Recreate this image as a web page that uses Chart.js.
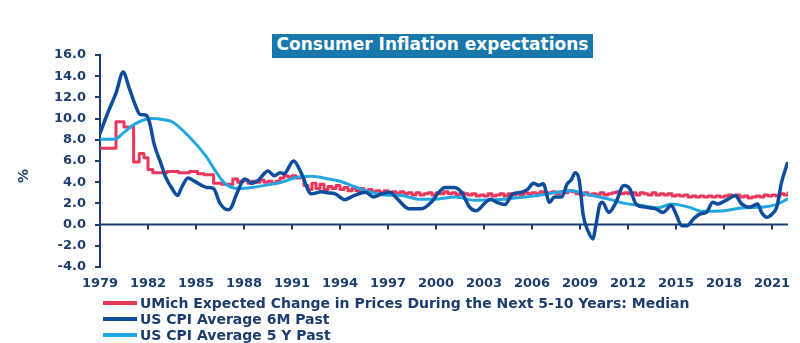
<!DOCTYPE html>
<html>
<head>
<meta charset="utf-8">
<script src="https://cdn.jsdelivr.net/npm/chart.js@4/dist/chart.umd.min.js"></script>
<style>
  html, body { margin: 0; padding: 0; background: #ffffff; }
  #wrap { position: relative; width: 800px; height: 343px; overflow: hidden; }
  #c { position: absolute; left: 0; top: 0; }
  #title {
    position: absolute; left: 272px; top: 34px; width: 321px; height: 24px;
    background: #1878ac; color: #ffffff; text-align: center; line-height: 24px;
    font: bold 17px "DejaVu Sans", sans-serif; white-space: nowrap;
  }
  #ylab {
    position: absolute; left: 16px; top: 168px; transform: rotate(-90deg);
    font: bold 14px "DejaVu Sans", sans-serif; color: #1c3d6e;
  }
  #legend {
    position: absolute; left: 103px; top: 295px;
    font: bold 14px "DejaVu Sans", sans-serif; color: #1c3d6e;
  }
  .item { display: flex; align-items: center; height: 16px; white-space: nowrap; }
  .swatch { width: 34px; height: 4px; margin-right: 3px; flex: none; }
</style>
</head>
<body>
<div id="wrap">
  <canvas id="c" width="800" height="343"></canvas>
  <div id="title">Consumer Inflation expectations</div>
  <div id="ylab">%</div>
  <div id="legend"></div>
</div>
<script>
// Axis ticks
const xTickYears = [1979, 1982, 1985, 1988, 1991, 1994, 1997, 2000, 2003, 2006, 2009, 2012, 2015, 2018, 2021];
const yTickValues = [-4, -2, 0, 2, 4, 6, 8, 10, 12, 14, 16];

// Series labels
const seriesNames = [
  'UMich Expected Change in Prices During the Next 5-10 Years: Median',
  'US CPI Average 6M Past',
  'US CPI Average 5 Y Past'
];

// UMich 5-10y expected inflation, median (%), by decimal year
const umichYears = [
  1979.0, 1980.0, 1980.5, 1981.1, 1981.45, 1981.75, 1982.0, 1982.3, 1983.2, 1983.9,
  1984.6, 1985.1, 1985.5, 1986.1, 1986.6, 1987.3, 1987.6,
  1987.75, 1988.0, 1988.25, 1988.5, 1988.75, 1989.0, 1989.25, 1989.5, 1989.75,
  1990.0, 1990.25, 1990.5, 1990.75, 1991.0, 1991.25, 1991.5, 1991.75,
  1992.0, 1992.25, 1992.5, 1992.75, 1993.0, 1993.25, 1993.5, 1993.75,
  1994.0, 1994.25, 1994.5, 1994.75, 1995.0, 1995.25, 1995.5, 1995.75,
  1996.0, 1996.25, 1996.5, 1996.75, 1997.0, 1997.25, 1997.5, 1997.75,
  1998.0, 1998.25, 1998.5, 1998.75, 1999.0, 1999.25, 1999.5, 1999.75,
  2000.0, 2000.25, 2000.5, 2000.75, 2001.0, 2001.25, 2001.5, 2001.75,
  2002.0, 2002.25, 2002.5, 2002.75, 2003.0, 2003.25, 2003.5, 2003.75,
  2004.0, 2004.25, 2004.5, 2004.75, 2005.0, 2005.25, 2005.5, 2005.75,
  2006.0, 2006.25, 2006.5, 2006.75, 2007.0, 2007.25, 2007.5, 2007.75,
  2008.0, 2008.25, 2008.5, 2008.75, 2009.0, 2009.25, 2009.5, 2009.75,
  2010.0, 2010.25, 2010.5, 2010.75, 2011.0, 2011.25, 2011.5, 2011.75,
  2012.0, 2012.25, 2012.5, 2012.75, 2013.0, 2013.25, 2013.5, 2013.75,
  2014.0, 2014.25, 2014.5, 2014.75, 2015.0, 2015.25, 2015.5, 2015.75,
  2016.0, 2016.25, 2016.5, 2016.75, 2017.0, 2017.25, 2017.5, 2017.75,
  2018.0, 2018.25, 2018.5, 2018.75, 2019.0, 2019.25, 2019.5, 2019.75,
  2020.0, 2020.25, 2020.5, 2020.75, 2021.0, 2021.25, 2021.5, 2021.75, 2022.0
];
const umichValues = [
  7.2, 9.7, 9.2, 5.9, 6.7, 6.3, 5.2, 4.9, 5.0, 4.9,
  5.0, 4.8, 4.7, 3.9, 3.8, 4.3, 4.0,
  4.1, 4.2, 3.9, 4.1, 4.0, 4.2, 4.0, 4.1, 3.9,
  4.1, 4.4, 4.6, 4.5, 4.6, 4.4, 4.5, 3.7,
  3.3, 3.9, 3.4, 3.8, 3.3, 3.6, 3.4, 3.7,
  3.3, 3.5, 3.2, 3.4, 3.2, 3.4, 3.1, 3.3,
  3.1, 3.2, 3.0, 3.2, 3.0, 3.1, 2.9, 3.1,
  2.9, 3.0, 2.8, 3.0, 2.8, 2.9, 3.0, 2.8,
  3.0, 2.9, 3.1, 2.9, 3.0, 2.8, 3.0, 2.9,
  2.8, 2.9, 2.7, 2.8, 2.7, 2.9, 2.7, 2.8,
  2.9, 2.7, 2.9, 2.8, 2.9, 2.8, 3.0, 2.9,
  3.0, 2.9, 3.1, 2.9, 3.0, 3.1, 2.9, 3.1,
  3.0, 3.2, 3.1, 2.9, 2.8, 3.0, 2.8, 2.9,
  2.8, 3.0, 2.8, 2.9, 3.0, 3.1, 2.9, 3.0,
  2.9, 3.0, 2.8, 3.0, 2.9, 2.8, 3.0, 2.8,
  2.9, 2.8, 2.9, 2.7, 2.8, 2.7, 2.8, 2.6,
  2.7, 2.6, 2.7, 2.6, 2.7, 2.6, 2.7, 2.6,
  2.7, 2.8, 2.7, 2.8, 2.6, 2.7, 2.5, 2.6,
  2.7, 2.6, 2.8, 2.7, 2.8, 2.7, 2.9, 2.8, 3.0
];

// US CPI, 6-month trailing average (%), by decimal year
const cpi6mYears = [
  1979.0, 1979.5, 1980.0, 1980.45, 1980.8, 1981.2, 1981.5, 1981.9, 1982.1, 1982.4,
  1982.8, 1983.1, 1983.5, 1983.85, 1984.1, 1984.5, 1984.9, 1985.35, 1985.7, 1986.1,
  1986.5, 1987.0, 1987.2, 1987.5, 1988.06, 1988.5, 1988.9, 1989.5, 1989.9, 1990.25,
  1990.5, 1991.1, 1991.6, 1992.2, 1992.85, 1993.2, 1993.7, 1994.3, 1994.9, 1995.6,
  1996.1, 1996.6, 1997.1, 1997.6, 1998.3, 1999.1, 1999.7, 2000.1, 2000.56, 2001.1,
  2001.6, 2002.1, 2002.5, 2003.1, 2003.4, 2003.8, 2004.3, 2004.8, 2005.35, 2005.7,
  2006.1, 2006.4, 2006.7, 2007.1, 2007.4, 2007.85, 2008.2, 2008.45, 2008.7, 2008.95,
  2009.2, 2009.5, 2009.8, 2010.0, 2010.25, 2010.4, 2010.8, 2011.2, 2011.75, 2012.1,
  2012.5, 2013.06, 2013.7, 2014.2, 2014.7, 2015.0, 2015.35, 2015.7, 2016.1, 2016.5,
  2016.9, 2017.3, 2017.6, 2018.2, 2018.7, 2019.1, 2019.6, 2020.1, 2020.35, 2020.7,
  2021.1, 2021.3, 2021.6, 2021.95
];
const cpi6mValues = [
  8.6, 10.6, 12.4, 14.4, 13.0, 11.3, 10.4, 10.3, 9.6, 7.5,
  5.8, 4.5, 3.4, 2.75, 3.5, 4.4, 4.1, 3.7, 3.5, 3.4,
  2.0, 1.4, 1.6, 2.75, 4.3, 3.9, 4.2, 5.05, 4.6, 4.9,
  4.8, 6.0, 4.8, 2.9, 3.1, 3.0, 2.9, 2.35, 2.75, 3.05,
  2.6, 2.9, 3.05, 2.4, 1.5, 1.5, 2.1, 2.9, 3.5, 3.5,
  3.05, 1.65, 1.3, 2.1, 2.4, 2.1, 1.9, 2.9, 3.05, 3.3,
  3.9, 3.7, 3.85, 2.1, 2.6, 2.6, 3.85, 4.2, 4.9, 4.2,
  0.9, -0.6, -1.35, 0.0, 1.95, 2.1, 1.15, 1.95, 3.7, 3.4,
  1.95, 1.65, 1.5, 1.15, 1.8, 1.0, -0.1, -0.1, 0.55, 1.0,
  1.15, 2.1, 1.95, 2.35, 2.75, 1.95, 1.65, 1.95, 1.15, 0.7,
  1.15, 1.65, 4.0, 5.75
];

// US CPI, 5-year trailing average (%), by decimal year
const cpi5yYears = [
  1979.0, 1979.9, 1980.5, 1981.2, 1982.2, 1983.0, 1983.5, 1984.5, 1985.6, 1986.2,
  1986.8, 1987.65, 1988.5, 1989.3, 1990.35, 1991.4, 1992.2, 1993.3, 1994.2, 1994.7,
  1995.8, 1996.8, 1997.85, 1998.9, 2000.0, 2001.2, 2002.4, 2004.3, 2006.4, 2008.5,
  2009.3, 2010.8, 2011.8, 2012.85, 2013.9, 2014.7, 2015.8, 2016.7, 2018.0, 2019.2,
  2020.45, 2021.3, 2021.95
];
const cpi5yValues = [
  8.05, 8.05, 8.7, 9.5, 10.0, 9.9, 9.7, 8.4, 6.5, 5.1,
  3.9, 3.4, 3.5, 3.7, 4.0, 4.5, 4.55, 4.3, 4.0, 3.7,
  3.1, 2.8, 2.75, 2.4, 2.4, 2.6, 2.3, 2.4, 2.75, 3.2,
  2.9, 2.4, 2.0, 1.8, 1.6, 1.95, 1.65, 1.25, 1.3, 1.6,
  1.65, 1.9, 2.4
];

const seriesColors = ['#e8375c', '#0e4d9c', '#22a7e0'];
const navy = '#1c3d6e';
const tickFont = { family: 'DejaVu Sans', size: 13, weight: 'bold' };

function toPoints(xs, ys) {
  return xs.map((x, i) => ({ x: x, y: ys[i] }));
}

// Horizontal axis line at zero with downward tick marks at each year label
const zeroAxis = {
  id: 'zeroAxis',
  beforeDatasetsDraw(chart) {
    const { ctx, chartArea } = chart;
    const xs = chart.scales.x, ys = chart.scales.y;
    const y0 = ys.getPixelForValue(0);
    ctx.save();
    ctx.strokeStyle = navy;
    ctx.lineWidth = 2;
    ctx.beginPath();
    ctx.moveTo(chartArea.left, y0);
    ctx.lineTo(chartArea.right, y0);
    xTickYears.forEach(v => {
      const px = Math.round(xs.getPixelForValue(v));
      ctx.moveTo(px, y0);
      ctx.lineTo(px, y0 + 5);
    });
    ctx.stroke();
    ctx.restore();
  }
};

const chart = new Chart(document.getElementById('c'), {
  type: 'line',
  data: {
    datasets: [
      {
        label: seriesNames[0], data: toPoints(umichYears, umichValues),
        borderColor: seriesColors[0], backgroundColor: seriesColors[0],
        borderWidth: 3, stepped: 'before', order: 3
      },
      {
        label: seriesNames[1], data: toPoints(cpi6mYears, cpi6mValues),
        borderColor: seriesColors[1], backgroundColor: seriesColors[1],
        borderWidth: 3.5, cubicInterpolationMode: 'monotone', order: 1
      },
      {
        label: seriesNames[2], data: toPoints(cpi5yYears, cpi5yValues),
        borderColor: seriesColors[2], backgroundColor: seriesColors[2],
        borderWidth: 3, cubicInterpolationMode: 'monotone', order: 2
      }
    ]
  },
  options: {
    responsive: false,
    animation: false,
    layout: { padding: { left: 0, right: 12, top: 55, bottom: 48 } },
    elements: { point: { radius: 0 }, line: { borderCapStyle: 'round', borderJoinStyle: 'round' } },
    plugins: { legend: { display: false }, tooltip: { enabled: false }, title: { display: false } },
    scales: {
      x: {
        type: 'linear', min: 1979, max: 2022,
        afterBuildTicks: s => { s.ticks = xTickYears.map(v => ({ value: v })); },
        afterFit: s => { s.height = 28; },
        ticks: {
          autoSkip: false, maxRotation: 0, padding: 9,
          color: navy, font: tickFont,
          callback: v => String(v)
        },
        grid: { display: false, drawTicks: false },
        border: { display: false }
      },
      y: {
        min: -4, max: 16,
        afterBuildTicks: s => { s.ticks = yTickValues.map(v => ({ value: v })); },
        afterFit: s => { s.width = 100; },
        ticks: {
          padding: 9, color: navy, font: tickFont,
          callback: v => Number(v).toFixed(1)
        },
        grid: { drawOnChartArea: false, drawTicks: true, tickLength: 5, color: navy, lineWidth: 2 },
        border: { display: true, color: navy, width: 2 }
      }
    }
  },
  plugins: [zeroAxis]
});

// Legend rows built from the chart's own datasets
const legendEl = document.getElementById('legend');
chart.data.datasets.forEach(ds => {
  const row = document.createElement('div');
  row.className = 'item';
  const sw = document.createElement('span');
  sw.className = 'swatch';
  sw.style.background = ds.borderColor;
  const tx = document.createElement('span');
  tx.textContent = ds.label;
  row.appendChild(sw);
  row.appendChild(tx);
  legendEl.appendChild(row);
});
</script>
</body>
</html>
